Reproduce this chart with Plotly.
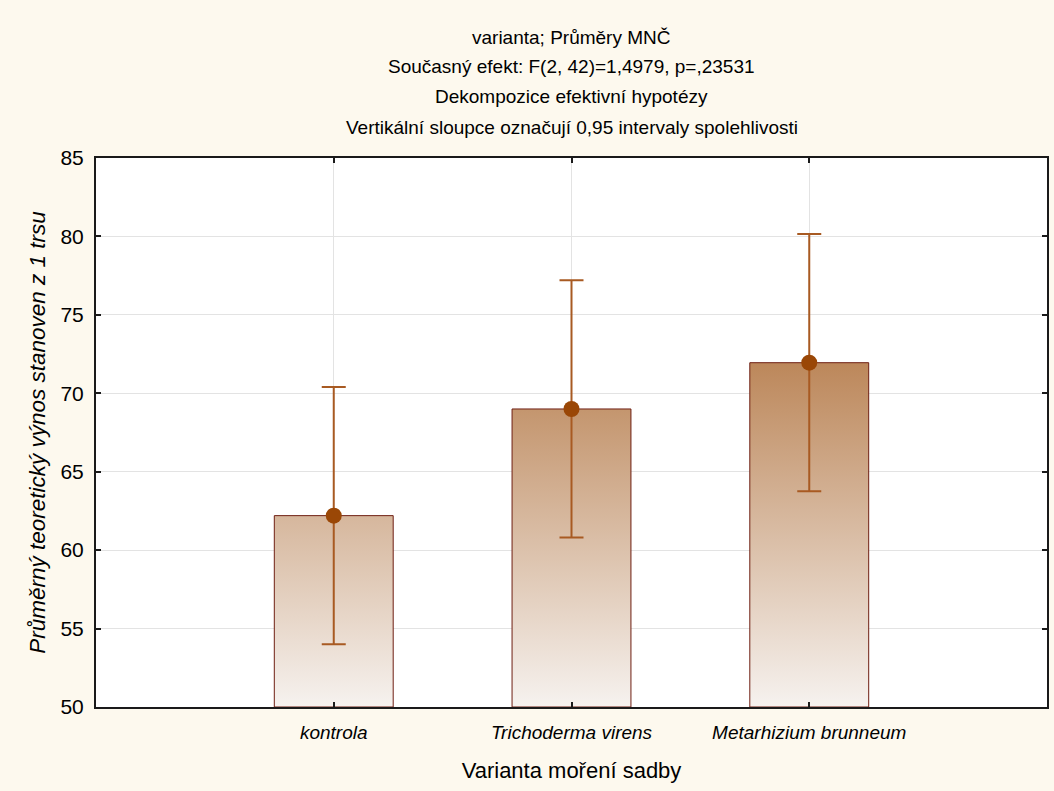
import plotly.graph_objects as go

categories = ["kontrola", "Trichoderma virens", "Metarhizium brunneum"]
means = [62.2, 69.0, 71.95]
ci_half = [8.2, 8.2, 8.2]
y_ticks = [50, 55, 60, 65, 70, 75, 80, 85]
title_lines = [
    "varianta; Průměry MNČ",
    "Současný efekt: F(2, 42)=1,4979, p=,23531",
    "Dekompozice efektivní hypotézy",
    "Vertikální sloupce označují 0,95 intervaly spolehlivosti",
]
x_title = "Varianta moření sadby"
y_title = "Průměrný teoretický výnos stanoven z 1 trsu"

BASE = 50
BAR_W = 0.5
FONT = "Liberation Sans, Arial, sans-serif"
pos = list(range(len(categories)))

# gradient-filled bars (polygons built from the data values)
bx, by = [], []
for p, m in zip(pos, means):
    bx += [p - BAR_W / 2, p - BAR_W / 2, p + BAR_W / 2, p + BAR_W / 2, p - BAR_W / 2, None]
    by += [BASE, m, m, BASE, BASE, None]

fig = go.Figure()
fig.add_trace(go.Scatter(
    x=bx, y=by, mode="lines", fill="toself",
    line=dict(color="#6E1E12", width=1),
    fillgradient=dict(type="vertical", start=BASE, stop=72,
                      colorscale=[[0, "#F6F2EF"], [1, "#BC875A"]]),
    hoverinfo="skip", showlegend=False,
))
fig.add_trace(go.Scatter(
    x=pos, y=means, mode="markers",
    marker=dict(color="#9A4706", size=16, line=dict(width=0)),
    error_y=dict(type="data", array=ci_half, visible=True,
                 color="#A85A22", thickness=2, width=12),
    showlegend=False,
))

annotations = []
for i, t in enumerate(title_lines):
    py = 37 + 30 * i
    annotations.append(dict(
        text=t, xref="paper", yref="paper", x=0.5, y=(707 - py) / 549,
        xanchor="center", yanchor="middle", showarrow=False,
        font=dict(family=FONT, size=19, color="#000000"),
    ))
fig.update_layout(annotations=annotations)

fig.update_layout(
    width=1054, height=791,
    margin=dict(l=96, r=5, t=158, b=84),
    paper_bgcolor="#FDF9EE",
    plot_bgcolor="#FFFFFF",
    font=dict(family=FONT, size=19, color="#000000"),
    xaxis=dict(
        range=[-1, 3], tickvals=pos, ticktext=categories,
        tickfont=dict(family=FONT, size=19, style="italic"),
        ticklabelstandoff=7,
        showgrid=True, gridcolor="#E3E3E3", gridwidth=1,
        showline=True, linecolor="#1A1A1A", linewidth=2, mirror="ticks",
        ticks="inside", ticklen=5, tickcolor="#1A1A1A", tickwidth=2,
        zeroline=False,
        title=dict(text=x_title, font=dict(family=FONT, size=22), standoff=21),
    ),
    yaxis=dict(
        range=[50, 85], tickvals=y_ticks,
        tickfont=dict(family=FONT, size=21),
        ticklabelstandoff=6,
        showgrid=True, gridcolor="#E3E3E3", gridwidth=1,
        showline=True, linecolor="#1A1A1A", linewidth=2, mirror="ticks",
        ticks="inside", ticklen=5, tickcolor="#1A1A1A", tickwidth=2,
        zeroline=False,
        title=dict(text=y_title, font=dict(family=FONT, size=22.5, style="italic"), standoff=9),
    ),
)

fig.write_html("out.html")
